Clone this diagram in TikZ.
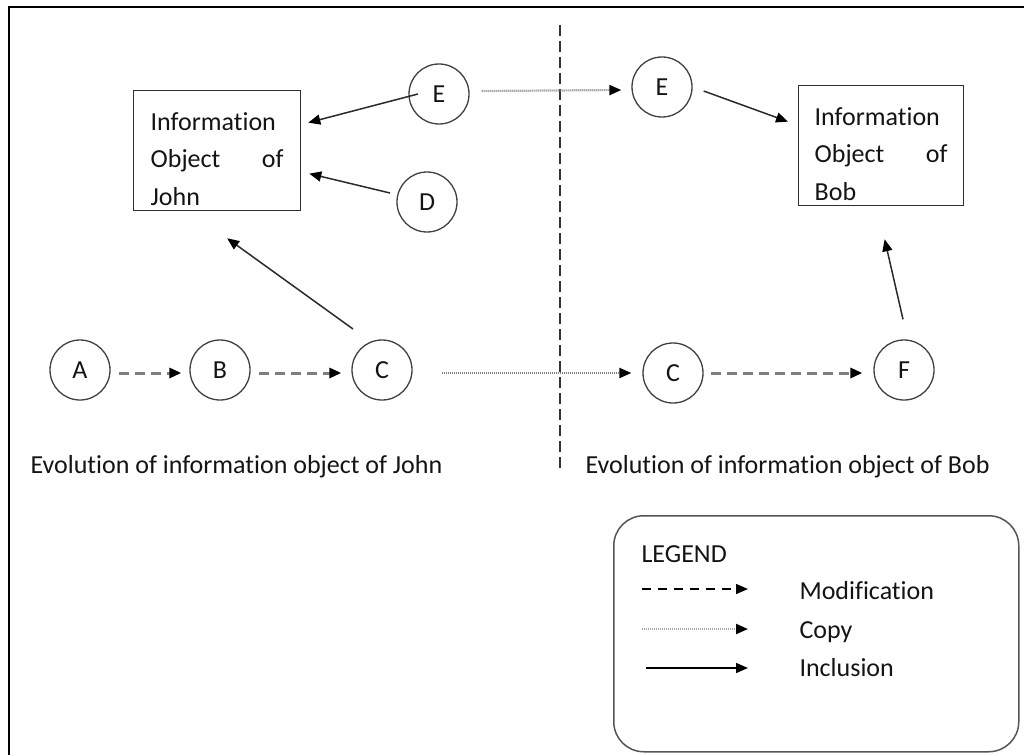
\documentclass[tikz,border=0pt]{standalone}
\usepackage{fontspec}
\setmainfont{Carlito}[Ligatures=NoCommon]
\usetikzlibrary{arrows.meta,calc}
\definecolor{txt}{HTML}{141414}
\definecolor{circlecol}{HTML}{404040}
\definecolor{boxcol}{HTML}{303030}
\definecolor{modcol}{HTML}{7F7F7F}
\definecolor{copycol}{HTML}{808080}
\definecolor{inclcol}{HTML}{2A2A2A}
\definecolor{legcol}{HTML}{555555}
\begin{document}
\begin{tikzpicture}[x=1pt,y=-1pt,
  every node/.style={font=\fontsize{26}{37.5}\selectfont, text=txt},
  state/.style={circle, draw=circlecol, line width=1.3pt, minimum size=60pt, inner sep=0pt},
  ibox/.style={draw=boxcol, line width=1.3pt, anchor=north west, minimum height=120pt,
    inner ysep=5pt, align=left},
  tiphead/.style={-{Triangle[length=12pt,width=10pt,color=black]}},
  modif/.style={draw=modcol, line width=3pt, dash pattern=on 10pt off 6pt, tiphead},
  copyarr/.style={draw=copycol, line width=2.2pt, dash pattern=on 1pt off 1pt, tiphead},
  incl/.style={draw=inclcol, line width=1.5pt, tiphead},
  lmodif/.style={draw=black, line width=1.4pt, dash pattern=on 9pt off 7pt, tiphead},
  lcopy/.style={draw=copycol!70, line width=2pt, dash pattern=on 1pt off 1pt, tiphead},
  lincl/.style={draw=black, line width=1.4pt, tiphead},
  lbl/.style={anchor=base west}
]
\useasboundingbox (0,0) rectangle (1024,754);

% outer frame (top and left only visible)
\coordinate (fTL) at (9,7);
\coordinate (fTR) at (1025,7);
\coordinate (fBL) at (9,755);
\draw[line width=2.5pt, black] (fTR) -- (fTL) -- (fBL);

% divider
\coordinate (dTop) at (560,25);
\coordinate (dBot) at (560,472);
\draw[draw=black!80, line width=1.5pt, dash pattern=on 11pt off 5pt] (dTop) -- (dBot);

% John side
\node[ibox, inner xsep=17pt, text width=133pt] (john) at (133,90)
  {\rule{0pt}{34pt}Information\\Object\hfill of\\John};
\node[state] (eL) at (439,94) {E};
\node[state] (dL) at (427,202) {D};
\node[state] (a) at (80,370) {A};
\node[state] (b) at (220,370) {B};
\node[state] (cL) at (382,370) {C};

% Bob side
\node[ibox, inner xsep=16pt, text width=133pt] (bob) at (798,85)
  {\rule{0pt}{34pt}Information\\Object\hfill of\\Bob};
\node[state] (eR) at (662,87) {E};
\node[state] (cR) at (673,373) {C};
\node[state] (f) at (904,370) {F};

% connectors
\draw[incl] ($(eL.center)+(-21,0)$) -- ($(john.east)+(7,-28)$);
\draw[incl] ($(dL.center)+(-37,-9)$) -- ($(john.east)+(8,23)$);
\draw[incl] ($(cL.center)+(-29,-41)$) -- ($(john.south)+(10,27)$);
\draw[modif] ($(a.east)+(8,3)$) -- ($(b.west)+(-8,3)$);
\draw[modif] ($(b.east)+(8,3)$) -- ($(cL.west)+(-10,3)$);
\draw[copyarr] ($(eL.east)+(12,-3)$) -- ($(eR.west)+(-10,3)$);
\draw[copyarr] ($(cL.east)+(29,3)$) -- ($(cR.west)+(-11,0)$);
\draw[modif] ($(cR.east)+(7,0)$) -- ($(f.west)+(-11,3)$);
\draw[incl] ($(eR.east)+(11,4)$) -- ($(bob.west)+(-10,-24)$);
\draw[incl] ($(f.north)+(-1,-20)$) -- ($(bob.south)+(3.5,33)$);

% captions
\node[lbl] (capJ) at (27,473) {Evolution of information object of John};
\node[lbl] (capB) at (582,473) {Evolution of information object of Bob};

% legend
\node[draw=legcol, line width=1.5pt, rounded corners=30pt, anchor=north west,
  minimum width=405pt, minimum height=236pt, inner sep=0pt] (legend) at (613,515) {};
\node[lbl] (legT) at (638,562) {LEGEND};
\coordinate (m1) at (642,589);
\coordinate (m2) at (748,589);
\coordinate (c1) at (642,629);
\coordinate (c2) at (748,629);
\coordinate (i1) at (646,668);
\coordinate (i2) at (748,668);
\draw[lmodif] (m1) -- (m2);
\draw[lcopy] (c1) -- (c2);
\draw[lincl] (i1) -- (i2);
\node[lbl] (legM) at (796,599) {Modification};
\node[lbl] (legC) at (796,638) {Copy};
\node[lbl] (legI) at (796,676) {Inclusion};
\end{tikzpicture}
\end{document}
